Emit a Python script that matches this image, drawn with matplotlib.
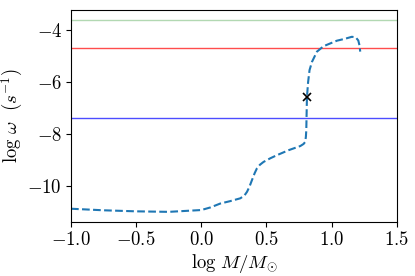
import matplotlib
matplotlib.use("Agg")
import matplotlib.pyplot as plt
from matplotlib.ticker import FuncFormatter, FixedLocator

plt.rcParams['mathtext.fontset'] = 'cm'
plt.rcParams['font.family'] = 'serif'
plt.rcParams['font.serif'] = ['DejaVu Serif']

log_m = [-1.0, -0.75, -0.5, -0.25, 0.0, 0.07, 0.146, 0.22, 0.299, 0.33, 0.351, 0.37,
         0.389, 0.41, 0.427, 0.45, 0.478, 0.53, 0.581, 0.67, 0.760, 0.785, 0.798, 0.803,
         0.806, 0.811, 0.82, 0.831, 0.85, 0.888, 0.939, 1.041, 1.10, 1.156, 1.185, 1.205,
         1.214, 1.22]
log_w = [-10.87, -10.93, -10.97, -10.99, -10.92, -10.82, -10.67, -10.58, -10.47, -10.37,
         -10.22, -10.02, -9.77, -9.50, -9.32, -9.18, -9.07, -8.93, -8.81, -8.62, -8.46,
         -8.38, -8.30, -8.10, -7.85, -6.59, -6.0, -5.54, -5.22, -4.83, -4.62, -4.41,
         -4.34, -4.26, -4.28, -4.40, -4.58, -4.83]

cross_m = [0.811]
cross_w = [-6.59]

hline_values = [-3.60, -4.70, -7.385]
hline_colors = ['green', 'red', 'blue']
hline_alphas = [0.3, 0.7, 0.7]

fig = plt.figure(figsize=(4.15, 2.76), dpi=100)
ax = fig.add_axes([71/415, 1 - 222/276, (396.7-71)/415, (222-10)/276])

for v, c, a in zip(hline_values, hline_colors, hline_alphas):
    ax.axhline(v, color=c, alpha=a, lw=1.0)

ax.plot(log_m, log_w, '--', color='#1f77b4', lw=1.5)
ax.plot(cross_m, cross_w, 'x', color='black', ms=6, mew=1.2)

ax.set_xlim(-1.0, 1.5)
ax.set_ylim(-11.38, -3.23)
ax.xaxis.set_major_locator(FixedLocator([-1.0, -0.5, 0.0, 0.5, 1.0, 1.5]))
ax.yaxis.set_major_locator(FixedLocator([-10, -8, -6, -4]))
ax.xaxis.set_major_formatter(FuncFormatter(lambda x, p: r'$%.1f$' % x))
ax.yaxis.set_major_formatter(FuncFormatter(lambda y, p: r'$%d$' % round(y)))
ax.tick_params(labelsize=13.5, pad=3)

ax.set_xlabel(r'$\log\,M/M_{\odot}$', fontsize=13.5, labelpad=2)
ax.set_ylabel(r'$\log\,\omega\ \ (s^{-1})$', fontsize=13.5, labelpad=2)

fig.savefig('out.png', dpi=100)
